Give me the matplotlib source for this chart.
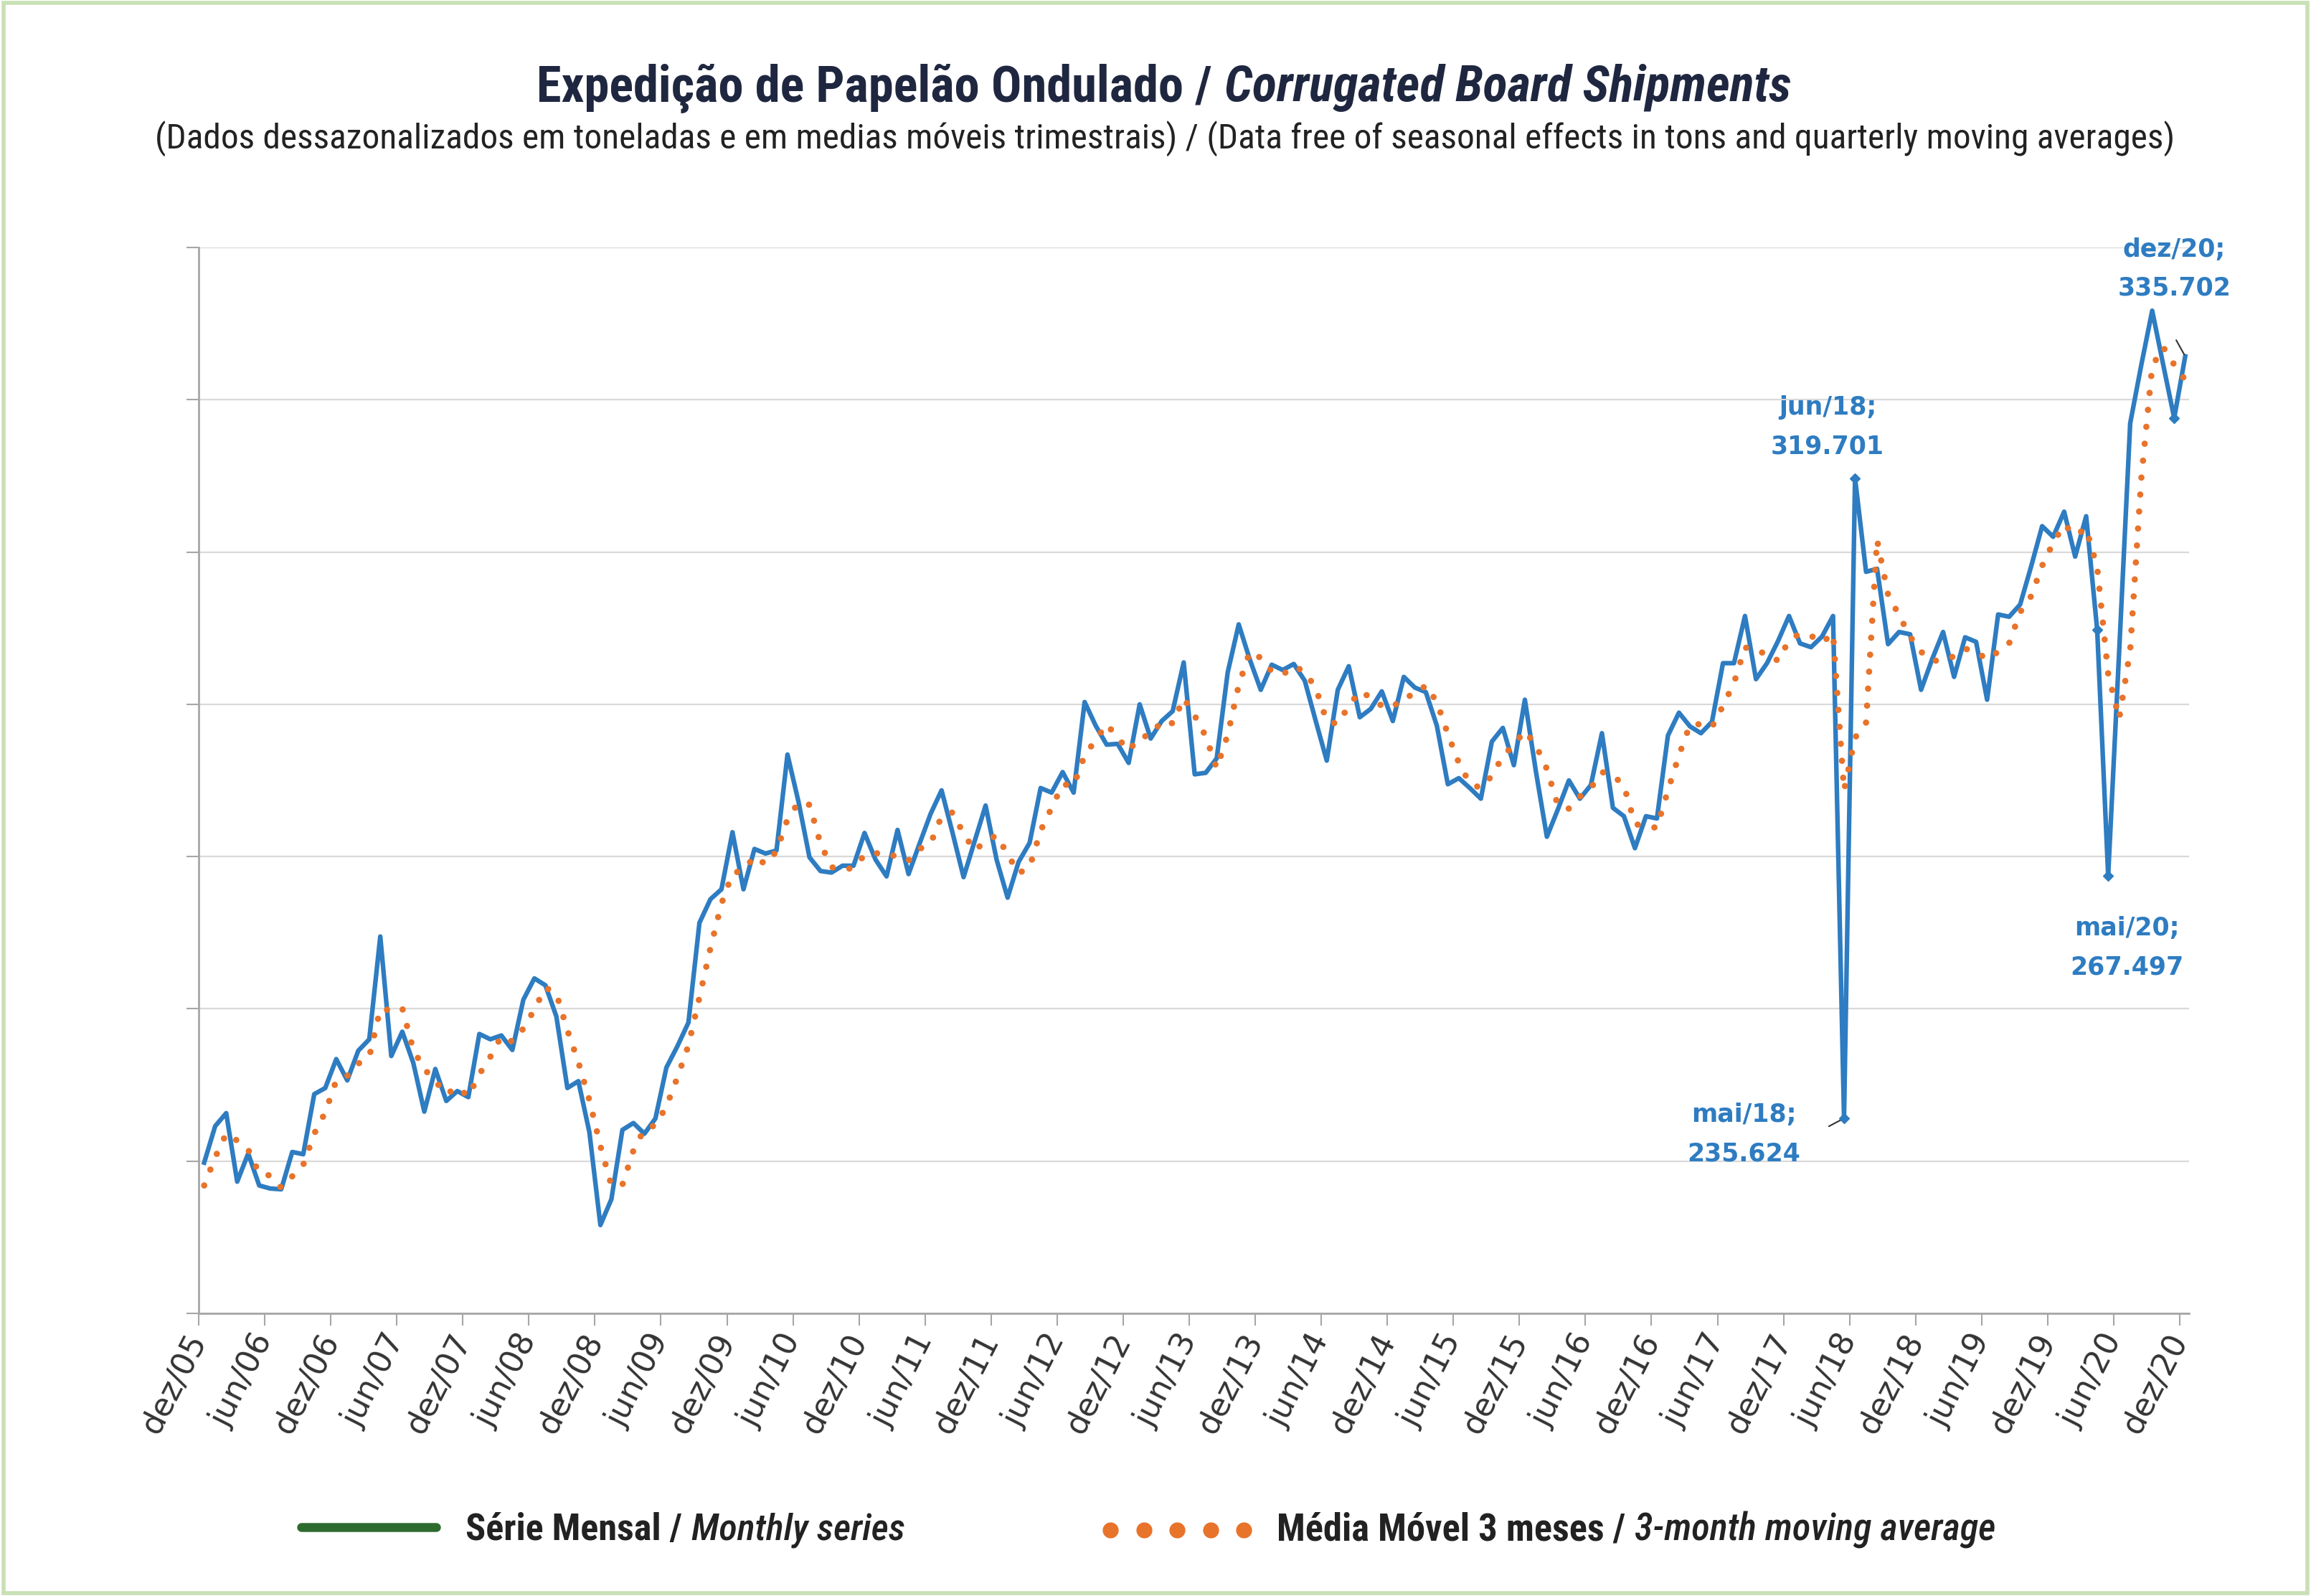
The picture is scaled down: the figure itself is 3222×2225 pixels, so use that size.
import numpy as np
import matplotlib.pyplot as plt
from matplotlib.lines import Line2D
from matplotlib.patches import Rectangle

# monthly series, dez/05 .. dez/20 (mil toneladas)
monthly = [
    229.8, 234.6, 236.3, 227.3, 231.0, 226.8, 226.4, 226.3, 231.2, 230.9, 238.8, 239.6,
    243.4, 240.6, 244.5, 246.0, 259.5, 243.8, 247.0, 242.9, 236.5, 242.1, 237.9, 239.2,
    238.4, 246.7, 246.0, 246.5, 244.6, 251.2, 254.0, 253.1, 249.0, 239.6, 240.5, 233.8,
    221.6, 225.0, 234.1, 235.0, 233.6, 235.6, 242.3, 245.1, 248.2, 261.3, 264.4, 265.7,
    273.2, 265.7, 271.0, 270.4, 270.8, 283.4, 277.2, 269.9, 268.1, 267.9, 268.8, 268.8,
    273.1, 269.6, 267.4, 273.5, 267.7, 271.7, 275.6, 278.7, 273.1, 267.3, 272.0, 276.7,
    269.6, 264.6, 269.3, 271.8, 279.0, 278.4, 281.1, 278.4, 290.3, 287.2, 284.7, 284.8,
    282.3, 290.0, 285.5, 287.8, 289.1, 295.5, 280.8, 281.0, 282.9, 294.2, 300.5, 295.9,
    291.9, 295.2, 294.5, 295.3, 293.1, 287.8, 282.6, 291.9, 295.0, 288.3, 289.4, 291.7,
    287.8, 293.6, 292.2, 291.6, 287.2, 279.5, 280.3, 279.0, 277.6, 285.1, 286.9, 282.0,
    290.6, 281.2, 272.6, 276.2, 280.0, 277.6, 279.4, 286.2, 276.4, 275.3, 271.1, 275.3,
    275.0, 285.9, 288.9, 287.1, 286.2, 287.7, 295.4, 295.4, 301.6, 293.3, 295.4, 298.3,
    301.6, 298.0, 297.5, 298.9, 301.6, 235.624, 319.701, 307.4, 307.8, 297.9, 299.5, 299.2,
    291.9, 295.9, 299.5, 293.6, 298.8, 298.2, 290.6, 301.8, 301.5, 303.1, 308.1, 313.4,
    312.0, 315.3, 309.4, 314.7, 299.8, 267.497, 297.0, 326.9, 334.5, 341.7, 334.6, 327.6,
    335.702,
]

# media movel 3 meses
moving_avg = [
    226.8, 230.5, 233.6, 232.7, 231.5, 228.4, 228.1, 226.5, 228.0, 229.5, 233.6, 236.4,
    240.6, 241.2, 242.8, 243.7, 250.0, 249.8, 250.1, 244.6, 242.1, 240.5, 238.8, 239.7,
    238.5, 241.4, 243.7, 246.4, 245.7, 247.4, 249.9, 252.8, 252.0, 247.2, 243.0, 238.0,
    232.0, 226.8, 226.9, 231.4, 234.2, 234.7, 237.2, 241.0, 245.2, 251.5, 258.0, 263.8,
    267.8, 268.2, 270.0, 269.0, 270.7, 274.9, 277.1, 276.8, 271.7, 268.6, 268.3, 268.5,
    270.2, 270.5, 270.0, 270.2, 269.5, 271.0, 271.7, 275.3, 275.8, 273.0, 270.8, 272.0,
    272.8, 270.3, 267.8, 268.6, 273.4, 276.4, 279.5, 279.3, 283.3, 285.3, 287.4, 285.6,
    283.9, 285.7, 285.9, 287.8, 287.5, 290.8, 288.5, 285.8, 281.6, 286.0, 292.5, 296.9,
    296.1, 294.3, 293.9, 295.0, 294.3, 292.1, 287.8, 287.4, 289.8, 291.7, 290.9, 289.8,
    289.6, 291.0, 291.2, 292.5, 290.3, 286.1, 282.3, 279.6, 279.0, 280.6, 283.2, 284.7,
    286.5, 284.6, 281.5, 276.7, 276.3, 277.9, 279.0, 281.1, 280.7, 279.3, 274.3, 273.9,
    273.8, 278.7, 283.3, 287.3, 287.4, 287.0, 289.8, 292.8, 297.5, 296.8, 296.8, 295.7,
    298.4, 299.3, 299.0, 298.1, 299.3, 278.7, 285.6, 287.6, 311.6, 304.4, 301.7, 298.9,
    296.9, 295.7, 295.8, 296.3, 297.3, 296.9, 295.9, 296.9, 298.0, 302.1, 304.2, 308.2,
    311.2, 313.6, 312.2, 313.1, 308.0, 294.0, 288.1, 297.1, 319.5, 334.4, 336.9, 334.6,
    332.6,
]

tick_labels = ['dez/05', 'jun/06', 'dez/06', 'jun/07', 'dez/07', 'jun/08', 'dez/08',
               'jun/09', 'dez/09', 'jun/10', 'dez/10', 'jun/11', 'dez/11', 'jun/12',
               'dez/12', 'jun/13', 'dez/13', 'jun/14', 'dez/14', 'jun/15', 'dez/15',
               'jun/16', 'dez/16', 'jun/17', 'dez/17', 'jun/18', 'dez/18', 'jun/19',
               'dez/19', 'jun/20', 'dez/20']

# indice do mes, texto, posicao do rotulo (x, y em unidades do grafico)
callouts = [
    (149, 'mai/18;\n235.624', 140.4, 233.5),
    (150, 'jun/18;\n319.701', 148.0, 326.4),
    (173, 'mai/20;\n267.497', 175.2, 258.0),
    (180, 'dez/20;\n335.702', 179.5, 347.2),
]
marker_idx = [149, 150, 172, 173, 179]

BLUE = '#2e7cc1'
ORANGE = '#e8732a'
GRID = '#d9d9d9'
AXIS = '#a6a6a6'
NAVY = '#1f2740'
TEXT_FONT = ['Roboto Condensed', 'Roboto', 'DejaVu Sans']

W, H = 3222, 2225
fig = plt.figure(figsize=(W / 100, H / 100), dpi=100)
fig.patch.set_facecolor('white')


def fx(px):
    return px / W


def fy(py):
    return 1 - py / H


ax = fig.add_axes([fx(277), fy(1831), fx(3052) - fx(277), fy(345) - fy(1831)])

x = np.arange(len(monthly)) + 0.5
ax.plot(x, monthly, color=BLUE, lw=4.6, zorder=3)
ax.plot(x, moving_avg, color=ORANGE, lw=6.3, linestyle=(0, (0.01, 2.7)),
        dash_capstyle='round', zorder=4)
ax.plot(x[marker_idx], np.array(monthly)[marker_idx], 'D', color=BLUE, ms=7, zorder=5)

for i, txt, tx, ty in callouts:
    ax.text(tx, ty, txt, ha='center', va='center', color=BLUE, fontsize=25,
            fontweight='bold', linespacing=1.75, zorder=6)

# pequenas linhas de chamada
ax.annotate('', xy=(x[149], monthly[149]), xytext=(-17, -9), textcoords='offset points',
            arrowprops=dict(arrowstyle='-', color='#333333', lw=1.5))
ax.annotate('', xy=(x[180], monthly[180]), xytext=(-10, 18), textcoords='offset points',
            arrowprops=dict(arrowstyle='-', color='#333333', lw=1.5))

ax.set_xlim(0, 180.85)
ax.set_ylim(210, 350)
ax.set_yticks(np.arange(210, 351, 20))
ax.set_yticklabels([])
ax.grid(axis='y', color=GRID, lw=1.6, zorder=0)
ax.set_axisbelow(True)
ax.set_xticks(np.arange(0, 181, 6))
ax.set_xticklabels(tick_labels, rotation=63, ha='right', va='center',
                   rotation_mode='anchor', fontsize=32, color='#333333')
for s in ['top', 'right']:
    ax.spines[s].set_visible(False)
for s in ['left', 'bottom']:
    ax.spines[s].set_color(AXIS)
    ax.spines[s].set_linewidth(2)
ax.tick_params(axis='y', length=12, width=1.5, color=AXIS)
ax.tick_params(axis='x', length=12, width=1.5, color=AXIS, pad=10)

renderer = fig.canvas.get_renderer()


def fit_pieces(pieces, x0, y, target_w, align='center', color=NAVY, gap_em=0.25):
    # desenha pedacos de texto com estilos diferentes numa linha, ajustando a largura
    texts = [fig.text(0, fy(y), s, ha='left', va='center', family=TEXT_FONT,
                      color=color, fontsize=20, **kw) for s, kw in pieces]

    def measure():
        ws = [t.get_window_extent(renderer).width for t in texts]
        gap = gap_em * texts[0].get_fontsize() * 100 / 72
        return ws, gap

    ws, gap = measure()
    total = sum(ws) + gap * (len(ws) - 1)
    k = target_w / total
    for t in texts:
        t.set_fontsize(t.get_fontsize() * k)
    ws, gap = measure()
    total = sum(ws) + gap * (len(ws) - 1)
    start = x0 - total / 2 if align == 'center' else x0
    for t, w in zip(texts, ws):
        t.set_x(fx(start))
        start += w + gap


fit_pieces([('Expedição de Papelão Ondulado /', dict(fontweight='bold')),
            ('Corrugated Board Shipments', dict(fontweight='bold', fontstyle='italic'))],
           1623, 123, 1747)
fit_pieces([('(Dados dessazonalizados em toneladas e em medias móveis trimestrais) / '
             '(Data free of seasonal effects in tons and quarterly moving averages)', {})],
           1624, 193, 2817, color='#222222')

# legenda
ly = 2133
fig.add_artist(Line2D([fx(420), fx(608)], [fy(ly - 4), fy(ly - 4)], color='#2d6a2e', lw=9,
                      solid_capstyle='round', transform=fig.transFigure))
fig.add_artist(Line2D(fx(np.linspace(1548, 1734, 5)), [fy(ly)] * 5, color=ORANGE, ls='none',
                      marker='o', ms=15, transform=fig.transFigure))
fit_pieces([('Série Mensal /', dict(fontweight='bold')),
            ('Monthly series', dict(fontweight='medium', fontstyle='italic'))],
           649, ly, 611, align='left', color='#222222')
fit_pieces([('Média Móvel 3 meses /', dict(fontweight='bold')),
            ('3-month moving average', dict(fontweight='medium', fontstyle='italic'))],
           1780, ly, 1002, align='left', color='#222222')

fig.add_artist(Rectangle((0.0015, 0.002), 0.997, 0.996, transform=fig.transFigure,
                         fill=False, edgecolor='#c8e0b5', lw=4))

fig.savefig('out.png', dpi=100, facecolor='white')
